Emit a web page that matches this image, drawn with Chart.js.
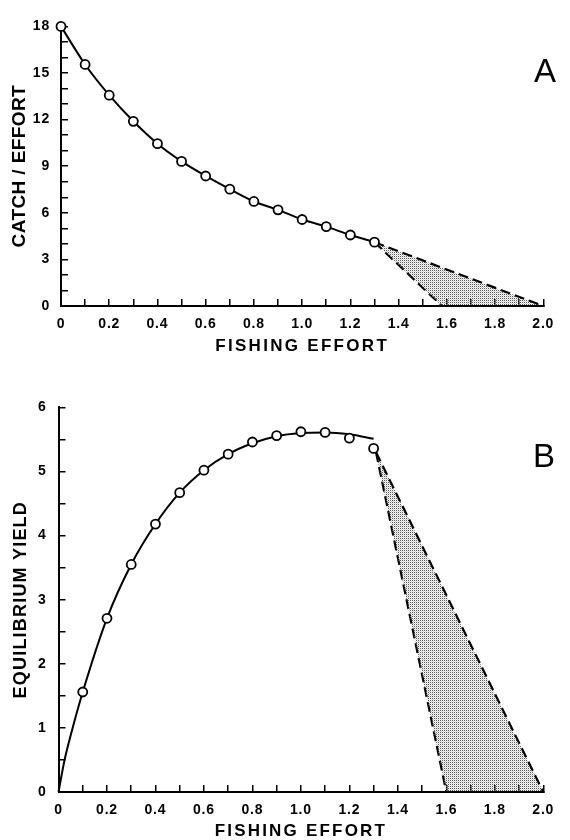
<!DOCTYPE html>
<html><head><meta charset="utf-8">
<script src="https://cdn.jsdelivr.net/npm/chart.js@4/dist/chart.umd.min.js"></script>
<style>
html,body{margin:0;padding:0;background:#fff;}
#wrap{position:relative;width:570px;height:840px;overflow:hidden;}
canvas{position:absolute;left:0;}
#cA{top:0;}
#cB{top:380px;}
.lbl{position:absolute;font-family:"Liberation Sans",Arial,sans-serif;font-size:33px;color:#000;line-height:1;}
</style></head>
<body><div id="wrap">
<canvas id="cA" width="570" height="360"></canvas>
<canvas id="cB" width="570" height="460"></canvas>
<div class="lbl" style="left:534px;top:54px">A</div>
<div class="lbl" style="left:533px;top:439px">B</div>
</div>
<script>
// ---- data ----
const effortA = [0,0.1,0.2,0.3,0.4,0.5,0.6,0.7,0.8,0.9,1.0,1.1,1.2,1.3];
const cpueA   = [18.0,15.55,13.57,11.89,10.45,9.31,8.37,7.52,6.73,6.19,5.57,5.11,4.57,4.11];
const fanAx = [1.3, 1.58, 2.0];   // apex, lower end, upper end
const fanAy = [4.11, 0, 0];

const effortB = [0.1,0.2,0.3,0.4,0.5,0.6,0.7,0.8,0.9,1.0,1.1,1.2,1.3];
const yieldB  = [1.56,2.71,3.55,4.18,4.67,5.02,5.27,5.46,5.56,5.62,5.61,5.52,5.36];
const curveEffortB = [0,0.025,0.05,0.1,0.2,0.3,0.4,0.5,0.6,0.7,0.8,0.9,1.0,1.1,1.2,1.3];
const curveYieldB  = [0,0.5,0.88,1.56,2.71,3.55,4.18,4.67,5.02,5.27,5.44,5.55,5.6,5.61,5.58,5.51];
const fanBx = [1.31, 1.6, 2.0];
const fanBy = [5.3, 0, 0];

const xLabels  = ['0','0.2','0.4','0.6','0.8','1.0','1.2','1.4','1.6','1.8','2.0'];
const yLabelsA = ['0','3','6','9','12','15','18'];
const yLabelsB = ['0','1','2','3','4','5','6'];

// ---- helpers ----
const FONT = '"Liberation Sans", Arial, Helvetica, sans-serif';
const pts = (xs, ys) => xs.map((x, i) => ({x, y: ys[i]}));

const stipple = (() => {
  const c = document.createElement('canvas'); c.width = 2; c.height = 2;
  const g = c.getContext('2d');
  g.fillStyle = '#555'; g.fillRect(0, 0, 1, 1);
  g.fillStyle = 'rgba(0,0,0,0.18)'; g.fillRect(1, 1, 1, 1);
  return g.createPattern(c, 'repeat');
})();

const spacingPlugin = {
  id: 'spacing',
  beforeDraw(chart) {
    const sp = chart.options.plugins.spacing || {};
    Object.values(chart.scales).forEach(s => {
      if (s._spaced) return;
      const oT = s.drawTitle, oL = s.drawLabels;
      s.drawTitle = function () {
        const ctx = this.ctx; ctx.save();
        ctx.letterSpacing = ((sp.title || {})[this.id] || 0) + 'px';
        oT.apply(this, arguments); ctx.restore();
      };
      s.drawLabels = function () {
        const ctx = this.ctx; ctx.save();
        ctx.letterSpacing = (sp.labels || 0) + 'px';
        oL.apply(this, arguments); ctx.restore();
      };
      s._spaced = true;
    });
  }
};

const gridOpts = {display: true, drawOnChartArea: false, drawTicks: true, tickLength: -7, color: '#000', lineWidth: 1.5};
const borderOpts = {display: true, color: '#000', width: 2};
const tickFont = {family: FONT, size: 14, weight: 'bold'};

function xScale(height, titlePad) {
  return {
    type: 'linear', position: 'bottom', min: 0, max: 2,
    border: borderOpts, grid: gridOpts,
    ticks: {stepSize: 0.1, autoSkip: false, maxRotation: 0, minRotation: 0, padding: 17, color: '#000', font: tickFont,
      callback: v => { const i = Math.round(v * 10); return i % 2 === 0 ? xLabels[i / 2] : ''; }},
    title: {display: true, text: 'FISHING EFFORT', color: '#000',
      font: {family: FONT, size: 17, weight: 'bold', lineHeight: 1}, padding: {top: 0, bottom: titlePad}},
    afterFit: s => { s.height = height; }
  };
}

function lineDs(data, extra) {
  return Object.assign({data, showLine: true, borderColor: '#000', borderWidth: 2, pointRadius: 0,
    fill: false, clip: false}, extra);
}

function fanDatasets(xs, ys) {
  const apex = {x: xs[0], y: ys[0]};
  const low = {x: xs[1], y: ys[1]};
  const high = {x: xs[2], y: ys[2]};
  return [
    lineDs([apex, high], {borderDash: [10, 5], borderWidth: 2.2, fill: {target: 3}, backgroundColor: stipple, clip: undefined, order: 2}),
    lineDs([apex, low], {borderDash: [10, 5], borderWidth: 2.2, order: 2}),
    lineDs([apex, low, high], {borderWidth: 0, borderColor: 'rgba(0,0,0,0)', order: 3, clip: undefined})
  ];
}

const baseOpts = {
  responsive: false, animation: false, events: [],
  plugins: {legend: {display: false}, tooltip: {enabled: false}, title: {display: false}}
};

// ---- Chart A ----
new Chart(document.getElementById('cA'), {
  type: 'scatter',
  data: {datasets: [
    lineDs(pts(effortA, cpueA), {cubicInterpolationMode: 'monotone', pointRadius: 4.5,
      pointBackgroundColor: '#fff', pointBorderColor: '#000', pointBorderWidth: 1.8, order: 0}),
    ...fanDatasets(fanAx, fanAy)
  ]},
  options: Object.assign({}, baseOpts, {
    layout: {padding: {top: 17, right: 17, left: 0, bottom: 0}},
    plugins: Object.assign({}, baseOpts.plugins, {spacing: {labels: 0.8, title: {x: 2.3, y: 0.4}}}),
    scales: {
      x: xScale(54, 5.5),
      y: {
        type: 'linear', position: 'left', min: 0, max: 18,
        border: borderOpts, grid: gridOpts,
        ticks: {stepSize: 1, autoSkip: false, padding: 18, color: '#000', font: tickFont,
          callback: v => v % 3 === 0 ? yLabelsA[v / 3] : ''},
        title: {display: true, text: 'CATCH / EFFORT', color: '#000',
          font: {family: FONT, size: 19, weight: 'bold', lineHeight: 1}, padding: {top: 10.5, bottom: 0}},
        afterFit: s => { s.width = 61; }
      }
    }
  }),
  plugins: [spacingPlugin]
});

// ---- Chart B ----
new Chart(document.getElementById('cB'), {
  type: 'scatter',
  data: {datasets: [
    lineDs(pts(curveEffortB, curveYieldB), {cubicInterpolationMode: 'monotone', order: 1}),
    ...fanDatasets(fanBx, fanBy),
    lineDs(pts(effortB, yieldB), {showLine: false, pointRadius: 4.5, pointBackgroundColor: '#fff',
      pointBorderColor: '#000', pointBorderWidth: 1.8, order: 0})
  ]},
  options: Object.assign({}, baseOpts, {
    layout: {padding: {top: 22, right: 18, left: 0, bottom: 0}},
    plugins: Object.assign({}, baseOpts.plugins, {spacing: {labels: 0.8, title: {x: 2.2, y: 1.2}}}),
    scales: {
      x: xScale(48, 0),
      y: {
        type: 'linear', position: 'left', min: 0, max: 6,
        border: borderOpts, grid: gridOpts,
        ticks: {stepSize: 0.5, autoSkip: false, padding: 19, color: '#000', font: tickFont,
          callback: v => Number.isInteger(v) ? yLabelsB[v] : ''},
        title: {display: true, text: 'EQUILIBRIUM YIELD', color: '#000',
          font: {family: FONT, size: 18, weight: 'bold', lineHeight: 1}, padding: {top: 12, bottom: 0}},
        afterFit: s => { s.width = 58.5; }
      }
    }
  }),
  plugins: [spacingPlugin]
});
</script>
</body></html>
